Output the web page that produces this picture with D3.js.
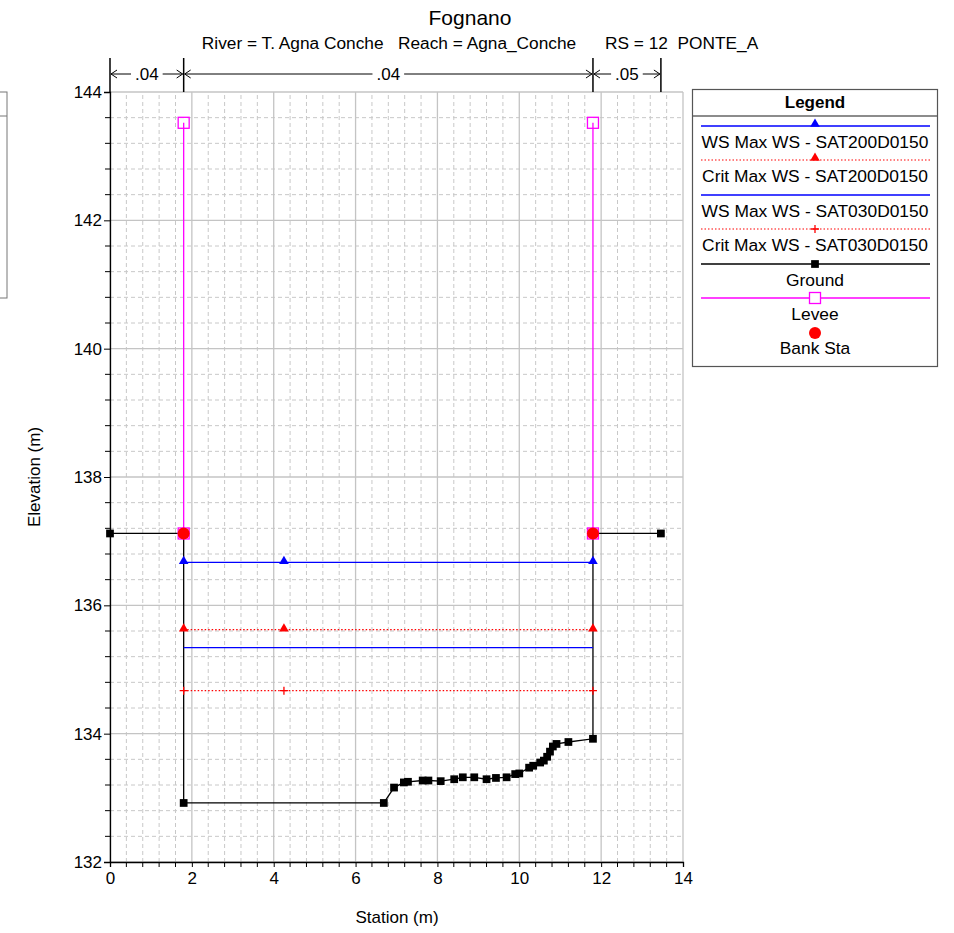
<!DOCTYPE html>
<html><head><meta charset="utf-8">
<script src="https://cdn.jsdelivr.net/npm/d3@7"></script>
<style>body{margin:0;background:#fff}svg{display:block;font-family:"Liberation Sans",Arial,Helvetica,sans-serif}</style>
</head><body><svg id="c" width="954" height="933"></svg>
<script>
const title = "Fognano";
const subtitle = "River = T. Agna Conche   Reach = Agna_Conche      RS = 12  PONTE_A";
const xTicks = [0,2,4,6,8,10,12,14];
const yTicks = [132,134,136,138,140,142,144];
const groundSta = [0,1.8,1.8,6.69,6.94,7.18,7.28,7.64,7.78,8.08,8.41,8.62,8.90,9.20,9.43,9.69,9.90,10.0,10.24,10.34,10.51,10.60,10.68,10.75,10.82,10.91,11.20,11.80,11.80,13.46];
const groundElev = [137.12,137.12,132.92,132.92,133.16,133.24,133.25,133.27,133.27,133.26,133.29,133.32,133.32,133.29,133.31,133.32,133.37,133.38,133.47,133.50,133.55,133.58,133.64,133.72,133.80,133.84,133.87,133.92,137.12,137.12];
const wsSta = [1.8,4.25,11.8];
const ws200 = 136.67, crit200 = 135.62, ws030 = 135.34, crit030 = 134.67;
const leveeSta = [1.8,11.8];
const leveeTop = 143.52, leveeBot = 137.12;
const bankSta = [1.8,11.8];
const bankElev = [137.12,137.12];
const nBreaks = [0,1.8,11.8,13.46];
const nValues = [".04",".04",".05"];
const legendLabels = ["WS Max WS - SAT200D0150","Crit Max WS - SAT200D0150","WS Max WS - SAT030D0150","Crit Max WS - SAT030D0150","Ground","Levee","Bank Sta"];

const svg = d3.select("#c");
const x = d3.scaleLinear().domain([0,14]).range([110,683]);
const y = d3.scaleLinear().domain([132,144]).range([862,92]);

// partial clipped box at left
svg.append("rect").attr("x",-10).attr("y",92).attr("width",17).attr("height",206).attr("fill","none").attr("stroke","#777");
svg.append("line").attr("x1",-10).attr("x2",7).attr("y1",116).attr("y2",116).attr("stroke","#777");

// grid
const minorX = d3.range(0,14.01,0.4).filter(v=>Math.abs(v/2-Math.round(v/2))>1e-6);
const minorY = d3.range(132,144.01,0.4).filter(v=>Math.abs((v-132)/2-Math.round((v-132)/2))>1e-6);
const g = svg.append("g");
g.selectAll(".mx").data(minorX).join("line").attr("x1",d=>x(d)).attr("x2",d=>x(d)).attr("y1",y(132)).attr("y2",y(144)).attr("stroke","#c8c8c8").attr("stroke-dasharray","4,3");
g.selectAll(".my").data(minorY).join("line").attr("y1",d=>y(d)).attr("y2",d=>y(d)).attr("x1",x(0)).attr("x2",x(14)).attr("stroke","#c8c8c8").attr("stroke-dasharray","4,3");
g.selectAll(".Mx").data(xTicks).join("line").attr("x1",d=>x(d)).attr("x2",d=>x(d)).attr("y1",y(132)).attr("y2",y(144)).attr("stroke","#c4c4c4").attr("stroke-width",1.3);
g.selectAll(".My").data(yTicks).join("line").attr("y1",d=>y(d)).attr("y2",d=>y(d)).attr("x1",x(0)).attr("x2",x(14)).attr("stroke","#c4c4c4").attr("stroke-width",1.3);

// axes
const xAxis = d3.axisBottom(x).tickValues(xTicks).tickSize(5).tickPadding(5).tickFormat(d3.format("d"));
const gx = svg.append("g").attr("transform",`translate(0,${y(132)})`).call(xAxis);
gx.append("g").selectAll("line").data(minorX).join("line").attr("x1",d=>x(d)).attr("x2",d=>x(d)).attr("y1",0).attr("y2",5).attr("stroke","#000");
const yAxis = d3.axisLeft(y).tickValues(yTicks).tickSize(6).tickPadding(2).tickFormat(d3.format("d"));
const gy = svg.append("g").attr("transform",`translate(${x(0)},0)`).call(yAxis);
gy.append("g").selectAll("line").data(minorY).join("line").attr("y1",d=>y(d)).attr("y2",d=>y(d)).attr("x1",0).attr("x2",-5).attr("stroke","#000");
[gx,gy].forEach(a=>{a.selectAll("text").attr("font-size",17).attr("fill","#000").attr("font-family","Liberation Sans, Arial, sans-serif");a.select(".domain").attr("stroke","#000").attr("stroke-width",1.3);a.selectAll(".tick line").attr("stroke","#000");});

// titles
svg.append("text").attr("x",470).attr("y",25).attr("text-anchor","middle").attr("font-size",21).text(title);
svg.append("text").attr("x",480).attr("y",49).attr("text-anchor","middle").attr("font-size",17.3).attr("xml:space","preserve").style("white-space","pre").text(subtitle);
svg.append("text").attr("x",397).attr("y",923).attr("text-anchor","middle").attr("font-size",17).text("Station (m)");
svg.append("text").attr("transform",`translate(40,${(y(132)+y(144))/2}) rotate(-90)`).attr("text-anchor","middle").attr("font-size",17).text("Elevation (m)");

// n-values
const nv = svg.append("g");
nBreaks.forEach(b=>nv.append("line").attr("x1",x(b)).attr("x2",x(b)).attr("y1",58).attr("y2",92).attr("stroke","#000").attr("stroke-width",1.5));
nValues.forEach((v,i)=>{
  const a = x(nBreaks[i]), b = x(nBreaks[i+1]), m=(a+b)/2, yy=74;
  const t = nv.append("text").attr("x",m).attr("y",yy+6).attr("text-anchor","middle").attr("font-size",17).text(v);
  const w = t.node().getComputedTextLength()/2+4;
  nv.append("line").attr("x1",a+1).attr("x2",m-w).attr("y1",yy).attr("y2",yy).attr("stroke","#000");
  nv.append("line").attr("x1",m+w).attr("x2",b-1).attr("y1",yy).attr("y2",yy).attr("stroke","#000");
  nv.append("path").attr("d",`M${a+7},${yy-4}L${a+1},${yy}L${a+7},${yy+4}`).attr("fill","none").attr("stroke","#000");
  nv.append("path").attr("d",`M${b-7},${yy-4}L${b-1},${yy}L${b-7},${yy+4}`).attr("fill","none").attr("stroke","#000");
});

// symbols
const tri = d3.symbol().type(d3.symbolTriangle).size(40);
const sq = d3.symbol().type(d3.symbolSquare).size(60);
function plus(g,cx,cy,c){g.append("path").attr("d",`M${cx-4},${cy}H${cx+4}M${cx},${cy-4}V${cy+4}`).attr("stroke",c).attr("stroke-width",1.3);}

// ground
const line = d3.line().x(d=>x(d[0])).y(d=>y(d[1]));
const gd = groundSta.map((s,i)=>[s,groundElev[i]]);
svg.append("path").attr("d",line(gd)).attr("fill","none").attr("stroke","#000").attr("stroke-width",1.3);
svg.selectAll(".gs").data(gd).join("path").attr("d",sq).attr("transform",d=>`translate(${x(d[0])},${y(d[1])})`).attr("fill","#000");

// water surfaces
function hline(el,color,dash,w){svg.append("line").attr("x1",x(wsSta[0])).attr("x2",x(wsSta[wsSta.length-1])).attr("y1",y(el)).attr("y2",y(el)).attr("stroke",color).attr("stroke-width",w).attr("stroke-dasharray",dash);}
hline(ws200,"#0000ff",null,1.3);
svg.selectAll(".t1").data(wsSta).join("path").attr("d",tri).attr("transform",d=>`translate(${x(d)},${y(ws200)-1})`).attr("fill","#0000ff");
hline(crit200,"#ff0000","1.5,2",1.2);
svg.selectAll(".t2").data(wsSta).join("path").attr("d",tri).attr("transform",d=>`translate(${x(d)},${y(crit200)-1})`).attr("fill","#ff0000");
hline(ws030,"#0000ff",null,1.3);
hline(crit030,"#ff0000","1.5,2",1.2);
const pg = svg.append("g"); wsSta.forEach(s=>plus(pg,x(s),y(crit030),"#ff0000"));

// levee
leveeSta.forEach(s=>{
  svg.append("line").attr("x1",x(s)).attr("x2",x(s)).attr("y1",y(leveeTop)).attr("y2",y(leveeBot)).attr("stroke","#ff00ff").attr("stroke-width",1.3);
  [leveeTop,leveeBot].forEach(e=>svg.append("rect").attr("x",x(s)-5.5).attr("y",y(e)-5.5).attr("width",11).attr("height",11).attr("fill","none").attr("stroke","#ff00ff").attr("stroke-width",1.3));
});
// bank
svg.selectAll(".bk").data(bankSta).join("circle").attr("cx",d=>x(d)).attr("cy",(d,i)=>y(bankElev[i])).attr("r",6).attr("fill","#ff0000");

// legend
const L = svg.append("g");
L.append("rect").attr("x",692.5).attr("y",89.5).attr("width",245).attr("height",277).attr("fill","#fff").attr("stroke","#555").attr("stroke-width",1.2);
L.append("text").attr("x",815).attr("y",108).attr("text-anchor","middle").attr("font-size",17).attr("font-weight","bold").text("Legend");
L.append("line").attr("x1",693).attr("x2",937).attr("y1",116).attr("y2",116).attr("stroke","#666").attr("stroke-width",1.6);
const lx1=701, lx2=930, lc=815;
const lineYs=[126,160,195,229,264,298,332];
legendLabels.forEach((lab,i)=>{
  const ly=lineYs[i];
  L.append("text").attr("x",lc).attr("y",ly+22).attr("text-anchor","middle").attr("font-size",17.4).text(lab);
});
L.append("line").attr("x1",lx1).attr("x2",lx2).attr("y1",126).attr("y2",126).attr("stroke","#0000ff").attr("stroke-width",1.3);
L.append("path").attr("d",tri).attr("transform",`translate(${lc},124)`).attr("fill","#0000ff");
L.append("line").attr("x1",lx1).attr("x2",lx2).attr("y1",160).attr("y2",160).attr("stroke","#ff0000").attr("stroke-width",1.2).attr("stroke-dasharray","1.5,2");
L.append("path").attr("d",tri).attr("transform",`translate(${lc},158)`).attr("fill","#ff0000");
L.append("line").attr("x1",lx1).attr("x2",lx2).attr("y1",195).attr("y2",195).attr("stroke","#0000ff").attr("stroke-width",1.3);
L.append("line").attr("x1",lx1).attr("x2",lx2).attr("y1",229).attr("y2",229).attr("stroke","#ff0000").attr("stroke-width",1.2).attr("stroke-dasharray","1.5,2");
plus(L,lc,229,"#ff0000");
L.append("line").attr("x1",lx1).attr("x2",lx2).attr("y1",264).attr("y2",264).attr("stroke","#000").attr("stroke-width",1.3);
L.append("path").attr("d",sq).attr("transform",`translate(${lc},264)`).attr("fill","#000");
L.append("line").attr("x1",lx1).attr("x2",lx2).attr("y1",298).attr("y2",298).attr("stroke","#ff00ff").attr("stroke-width",1.3);
L.append("rect").attr("x",lc-5.5).attr("y",292.5).attr("width",11).attr("height",11).attr("fill","#fff").attr("stroke","#ff00ff").attr("stroke-width",1.3);
L.append("circle").attr("cx",lc).attr("cy",333).attr("r",6).attr("fill","#ff0000");
</script></body></html>
